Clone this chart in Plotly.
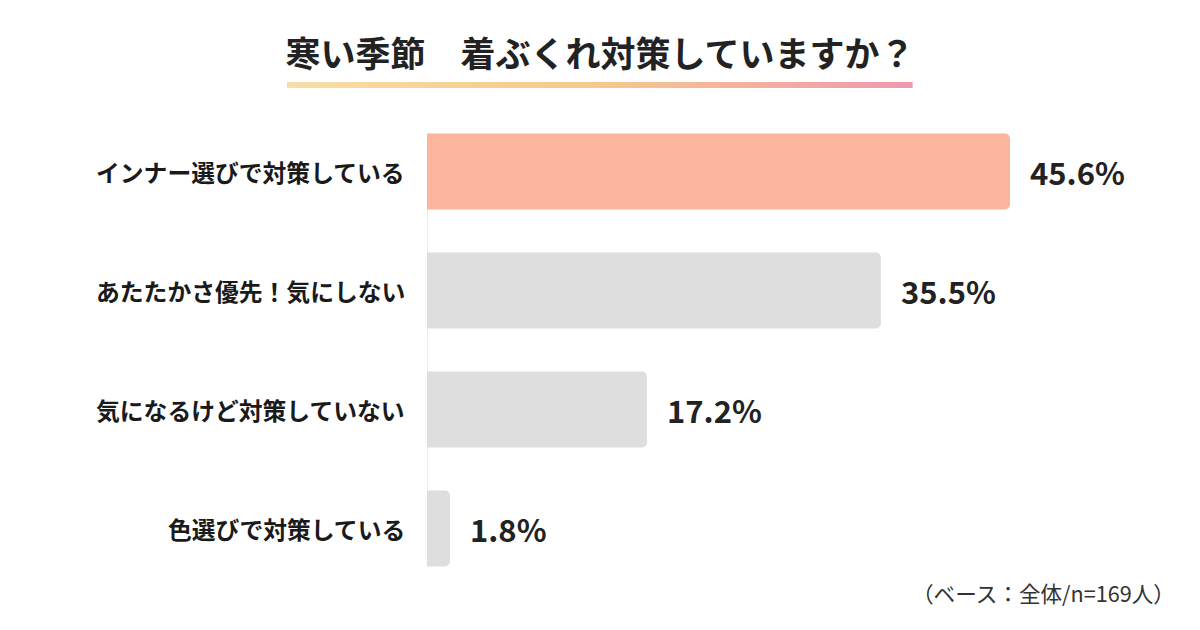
import plotly.graph_objects as go

categories = ["インナー選びで対策している", "あたたかさ優先！気にしない", "気になるけど対策していない", "色選びで対策している"]
values = [45.6, 35.5, 17.2, 1.8]
value_labels = ["45.6%", "35.5%", "17.2%", "1.8%"]
colors = ["#FAB59C", "#DEDEDE", "#DEDEDE", "#DEDEDE"]
title_text = "寒い季節　着ぶくれ対策していますか？"
note_text = "（ベース：全体/n=169人）"

W, H = 1200, 630
ML, MR, MT, MB = 427, 100, 112, 42
PW = W - ML - MR
PH = H - MT - MB
XMAX = 52.64

def px_x(p):
    return (p - ML) / PW

def px_y(p):
    return (H - MB - p) / PH

fig = go.Figure()
fig.add_trace(go.Bar(
    y=categories, x=values, orientation="h",
    marker=dict(color=colors, line=dict(width=0), cornerradius=5),
    width=0.64, hoverinfo="skip",
))

annotations = []
for c, v, t in zip(categories, values, value_labels):
    annotations.append(dict(x=v, y=c, xref="x", yref="y", text=t, showarrow=False,
                            xanchor="left", yanchor="middle", xshift=18,
                            font=dict(family="Noto Sans CJK JP", size=31, color="#222222", weight="bold")))
    annotations.append(dict(x=0, y=c, xref="paper", yref="y", text=c, showarrow=False,
                            xanchor="right", yanchor="middle", xshift=-20,
                            font=dict(family="Noto Sans CJK JP", size=23.8, color="#1a1a1a", weight="bold")))
annotations.append(dict(x=px_x(1177), y=px_y(592), xref="paper", yref="paper", text=note_text,
                        showarrow=False, xanchor="right", yanchor="middle",
                        font=dict(family="Noto Sans CJK JP", size=21.6, color="#333333")))

# gradient underline
stops = [(0.0, (247, 221, 168)), (0.5, (246, 200, 140)), (1.0, (239, 152, 176))]
def col(t):
    for (t0, c0), (t1, c1) in zip(stops[:-1], stops[1:]):
        if t <= t1:
            f = (t - t0) / (t1 - t0)
            return "rgb(%d,%d,%d)" % tuple(round(a + (b - a) * f) for a, b in zip(c0, c1))
    return "rgb(%d,%d,%d)" % stops[-1][1]

shapes = []
x0p, x1p = 287, 912
N = 120
for i in range(N):
    a = x0p + (x1p - x0p) * i / N
    b = x0p + (x1p - x0p) * (i + 1) / N + 0.6
    shapes.append(dict(type="rect", xref="paper", yref="paper", x0=px_x(a), x1=px_x(b),
                       y0=px_y(88), y1=px_y(82), fillcolor=col((i + 0.5) / N), line=dict(width=0), layer="above"))
shapes.append(dict(type="line", xref="x", yref="y", x0=0, x1=0, y0=-0.32, y1=3.32,
                   line=dict(color="#DCDCDC", width=1), layer="below"))

fig.update_layout(
    width=W, height=H, margin=dict(l=ML, r=MR, t=MT, b=MB),
    paper_bgcolor="white", plot_bgcolor="white", showlegend=False,
    title=dict(text=title_text, x=0.5, xref="container", xanchor="center",
               y=1 - 55 / H, yref="container", yanchor="middle",
               font=dict(family="Noto Sans CJK JP", size=35, color="#222222", weight="bold")),
    xaxis=dict(range=[0, XMAX], visible=False, fixedrange=True),
    yaxis=dict(type="category", categoryorder="array", categoryarray=categories,
               range=[3.5, -0.5], visible=False, fixedrange=True),
    annotations=annotations, shapes=shapes,
)
fig.write_html("out.html")
